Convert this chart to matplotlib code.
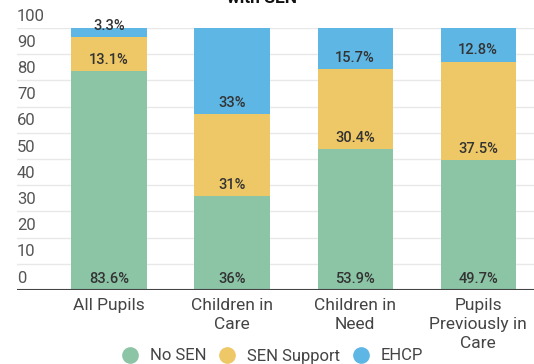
import matplotlib
matplotlib.use("Agg")
import matplotlib.pyplot as plt
from matplotlib.lines import Line2D
import numpy as np

plt.rcParams['font.family'] = ['Roboto', 'DejaVu Sans']

categories = ["All Pupils", "Children in\nCare", "Children in\nNeed", "Pupils\nPreviously in\nCare"]
series_names = ["No SEN", "SEN Support", "EHCP"]
no_sen = [83.6, 36, 53.9, 49.7]
sen_support = [13.1, 31, 30.4, 37.5]
ehcp = [3.3, 33, 15.7, 12.8]
label_text = [
    ["83.6%", "36%", "53.9%", "49.7%"],
    ["13.1%", "31%", "30.4%", "37.5%"],
    ["3.3%", "33%", "15.7%", "12.8%"],
]
colors = ["#8cc4a6", "#eec866", "#5eb6e4"]
y_ticks = list(range(0, 101, 10))

W, H = 534, 364
fig = plt.figure(figsize=(W / 100, H / 100), dpi=100)
ax = fig.add_axes([17 / W, (H - 290) / H, 1 - 17 / W, (290 - 28) / H])

x = np.arange(len(categories))
bottom = np.zeros(len(categories))
for s, vals in enumerate([no_sen, sen_support, ehcp]):
    vals = np.array(vals, dtype=float)
    ax.bar(x, vals, bottom=bottom, width=0.61, color=colors[s], zorder=2)
    for i in range(len(categories)):
        ax.annotate(label_text[s][i], (x[i], bottom[i]), xytext=(0, 8),
                    textcoords="offset points", ha="center", va="center",
                    fontsize=10.5, color="#333333", fontweight="medium", zorder=3)
    bottom += vals

ax.set_xlim(-0.748, 3.455)
ax.set_ylim(0, 100)

for t in y_ticks:
    if t > 0:
        ax.axhline(t, color="#e8e8e8", lw=1, zorder=1)
    ax.annotate(str(t), (0, t), xycoords=("axes fraction", "data"),
                xytext=(0, 8.5), textcoords="offset points",
                ha="left", va="center", fontsize=12, color="#555555")
ax.axhline(0, color="#444444", lw=1.5, zorder=4)

for sp in ax.spines.values():
    sp.set_visible(False)
ax.set_yticks([])
ax.set_xticks(x)
ax.set_xticklabels(categories, fontsize=12.5, color="#444444", linespacing=1.3)
ax.tick_params(axis="x", length=0, pad=6)

handles = [Line2D([], [], marker="o", ls="", markersize=11, markerfacecolor=c,
                  markeredgecolor=c) for c in colors]
fig.legend(handles, series_names, loc="center", bbox_to_anchor=(268 / W, 1 - 356 / H),
           ncol=3, frameon=False, fontsize=12, handletextpad=0.2, columnspacing=0.25,
           labelcolor="#444444", borderpad=0, borderaxespad=0)

fig.text(262 / W, 1 - 3 / H, "with SEN", ha="center", va="baseline",
         fontsize=12.5, fontweight="bold", color="#111111")

fig.savefig("out.png", dpi=100)
